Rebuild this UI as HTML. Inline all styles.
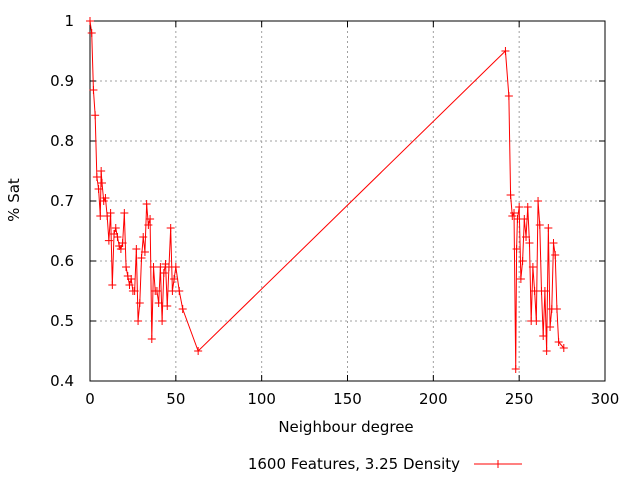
<!DOCTYPE html>
<html><head><meta charset="utf-8"><style>
html,body{margin:0;padding:0;background:#fff}
svg{display:block;font-family:"DejaVu Sans",sans-serif;font-size:15px}
</style></head><body>
<svg id="chart" width="640" height="480">
<g id="grid"></g><g id="axes"></g><g id="series"></g>
<text x="346" y="432" text-anchor="middle">Neighbour degree</text>
<text x="19" y="200" text-anchor="middle" transform="rotate(-90 19 200)">% Sat</text>
<g>
<text x="460" y="469" text-anchor="end">1600 Features, 3.25 Density</text>
<line x1="474" y1="464" x2="522" y2="464" stroke="#f00" stroke-width="1"/>
<line x1="498" y1="460" x2="498" y2="468" stroke="#f00"/>
<line x1="494" y1="464" x2="502" y2="464" stroke="#f00"/>
</g>
</svg>
<script>
const xTicks=[0,50,100,150,200,250,300];
const yTicks=[0.4,0.5,0.6,0.7,0.8,0.9,1];
const yTickLabels=["0.4","0.5","0.6","0.7","0.8","0.9","1"];
const degrees=[0,1,2,3,4,5,6,6.5,7,8,9,10,11,12,13,14,15,16,17,18,19,20,21,22,23,24,25,26,27,28,29,30,31,32,33,34,35,36,37,38,39,40,41,42,43,44,45,46,47,48,49,50,52,54,63,242,244,245,246,247,248,248.5,249,250,251,252,253,254,255,256,257,258,259,260,261,262,263,264,265,266,267,268,269,270,271,272,273,276];
const sat=[1.0,0.98,0.885,0.843,0.74,0.72,0.675,0.75,0.73,0.70,0.705,0.675,0.634,0.68,0.56,0.645,0.655,0.64,0.625,0.62,0.63,0.68,0.59,0.575,0.56,0.57,0.55,0.55,0.62,0.50,0.53,0.605,0.64,0.615,0.695,0.66,0.67,0.47,0.59,0.55,0.55,0.53,0.59,0.5,0.58,0.595,0.525,0.59,0.655,0.55,0.57,0.59,0.55,0.52,0.45,0.95,0.875,0.71,0.675,0.68,0.42,0.62,0.67,0.69,0.57,0.6,0.67,0.64,0.69,0.63,0.5,0.59,0.55,0.5,0.7,0.66,0.55,0.475,0.55,0.45,0.655,0.49,0.52,0.63,0.61,0.52,0.465,0.455];
const L=90,R=605,T=21,B=381;
const xs=v=>L+(v-0)/300*(R-L);
const ys=v=>B-(v-0.4)/0.6*(B-T);
const NS="http://www.w3.org/2000/svg";
function mk(tag,attrs,parent){const e=document.createElementNS(NS,tag);for(const k in attrs)e.setAttribute(k,attrs[k]);parent.appendChild(e);return e;}
const grid=document.getElementById('grid'),axes=document.getElementById('axes'),ser=document.getElementById('series');
xTicks.forEach((t,i)=>{const x=xs(t);
 if(i>0&&i<xTicks.length-1){const g=mk('line',{x1:x,y1:T,x2:x,y2:B,stroke:'#a0a0a0','stroke-dasharray':'2,3'},grid);
 
 }
 mk('line',{x1:x,y1:B,x2:x,y2:B-6,stroke:'#000'},axes);
 mk('line',{x1:x,y1:T,x2:x,y2:T+6,stroke:'#000'},axes);
 const tx=mk('text',{x:x,y:B+23,'text-anchor':'middle'},axes);tx.textContent=String(t);
 
 
});
yTicks.forEach((t,i)=>{const y=ys(t);
 if(i>0&&i<yTicks.length-1){const g=mk('line',{x1:L,y1:y,x2:R,y2:y,stroke:'#a0a0a0','stroke-dasharray':'2,3'},grid);
 
 }
 mk('line',{x1:L,y1:y,x2:L+6,y2:y,stroke:'#000'},axes);
 mk('line',{x1:R,y1:y,x2:R-6,y2:y,stroke:'#000'},axes);
 const tx=mk('text',{x:L-16,y:y+5,'text-anchor':'end'},axes);tx.textContent=yTickLabels[i];
 
 
});
const frame=mk('rect',{x:L,y:T,width:R-L,height:B-T,fill:'none',stroke:'#000'},axes);


const pts=degrees.map((d,i)=>xs(d)+','+ys(sat[i])).join(' ');
const pl=mk('polyline',{points:pts,fill:'none',stroke:'#f00','stroke-width':1},ser);


degrees.forEach((d,i)=>{const x=xs(d),y=ys(sat[i]);
 const p=mk('path',{d:`M${x-4},${y}H${x+4}M${x},${y-4}V${y+4}`,stroke:'#f00','stroke-width':1},ser);
 
 
});
</script>
</body></html>
